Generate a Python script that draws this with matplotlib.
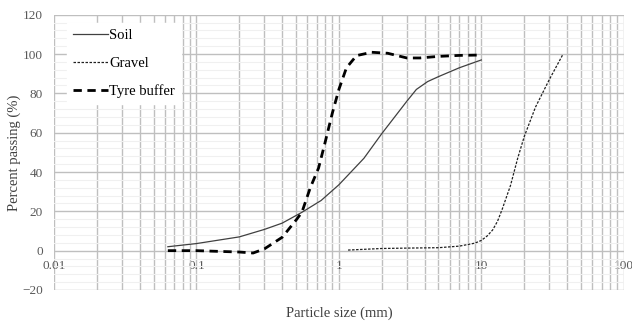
import matplotlib
matplotlib.use('Agg')
import matplotlib.pyplot as plt
from matplotlib.ticker import FixedLocator, FixedFormatter, MultipleLocator, NullFormatter

# sieve data
soil_size = [0.063, 0.1, 0.2, 0.3, 0.4, 0.55, 0.75, 1.0, 1.5, 2.0, 3.0, 3.5, 4.2, 5.0, 7.0, 10.0]
soil_pass = [2.0, 3.6, 7.0, 10.8, 14.0, 19.5, 25.5, 33.5, 47.0, 59.5, 76.0, 82.0, 86.0, 88.5, 93.0, 97.0]

gravel_size = [1.16, 2.0, 3.0, 5.0, 7.0, 9.0, 10.0, 11.0, 12.0, 13.0, 14.0, 16.0, 18.0, 20.0, 24.0, 30.0, 37.5]
gravel_pass = [0.3, 1.1, 1.3, 1.5, 2.3, 3.8, 5.2, 7.5, 10.5, 15.0, 21.0, 33.0, 47.0, 58.0, 73.0, 87.0, 100.0]

tyre_size = [0.063, 0.1, 0.2, 0.25, 0.3, 0.4, 0.5, 0.55, 0.63, 0.72, 0.8, 0.9, 1.0, 1.13, 1.33, 1.7, 2.2, 3.0, 3.7, 5.0, 7.0, 10.0]
tyre_pass = [0.0, 0.0, -0.7, -1.2, 0.9, 6.8, 15.5, 19.5, 32.0, 42.0, 55.0, 70.0, 82.0, 93.0, 99.2, 100.9, 100.4, 98.0, 98.0, 98.8, 99.3, 99.5]

x_ticks = [0.01, 0.1, 1, 10, 100]
x_labels = ['0.01', '0.1', '1', '10', '100']

plt.rcParams['font.family'] = 'Liberation Serif'

fig = plt.figure(figsize=(6.32, 3.24), dpi=100)
ax = fig.add_axes([0.0854, 0.105, 0.9016, 0.8496])

ax.plot(soil_size, soil_pass, color='#404040', lw=0.9, label='Soil')
ax.plot(gravel_size, gravel_pass, color='#202020', lw=0.9, ls=(0, (2, 1.2)), label='Gravel')
ax.plot(tyre_size, tyre_pass, color='black', lw=2.0, ls=(0, (3, 2)), label='Tyre buffer')

ax.set_xscale('log')
ax.set_xlim(0.01, 100)
ax.set_ylim(-20, 120)

ax.xaxis.set_major_locator(FixedLocator(x_ticks))
ax.xaxis.set_major_formatter(FixedFormatter(x_labels))
ax.xaxis.set_minor_locator(FixedLocator([m * d for d in [0.01, 0.1, 1, 10] for m in range(2, 10)]))
ax.xaxis.set_minor_formatter(NullFormatter())
ax.yaxis.set_major_locator(MultipleLocator(20))
ax.yaxis.set_minor_locator(MultipleLocator(4))

ax.grid(True, which='major', axis='both', color='#bfbfbf', lw=1.0)
ax.grid(True, which='minor', axis='x', color='#bfbfbf', lw=1.0)
ax.grid(True, which='minor', axis='y', color='#f0f0f0', lw=0.8)
ax.set_axisbelow(True)

for s in ['top', 'right', 'left']:
    ax.spines[s].set_visible(False)
ax.spines['bottom'].set_position(('data', 0))
ax.spines['bottom'].set_visible(False)

ax.tick_params(which='both', length=0, labelsize=9.5, labelcolor='#595959')
ax.tick_params(axis='x', pad=7)
ax.tick_params(axis='y', pad=8)

ax.set_xlabel('Particle size (mm)', fontsize=10.5, color='#404040')
ax.xaxis.set_label_coords(0.5, -0.06)
ax.set_ylabel('Percent passing (%)', fontsize=10.5, color='#404040')
ax.yaxis.set_label_coords(-0.057, 0.5)

leg = ax.legend(loc='upper left', bbox_to_anchor=(0.01, 0.995), fontsize=10.5,
                handlelength=2.4, handletextpad=0.1, labelspacing=0.98,
                frameon=True, fancybox=False, borderpad=0.4)
leg.get_frame().set_edgecolor('white')
leg.get_frame().set_facecolor('white')
leg.get_frame().set_alpha(1)

fig.savefig('out.png', dpi=100)
